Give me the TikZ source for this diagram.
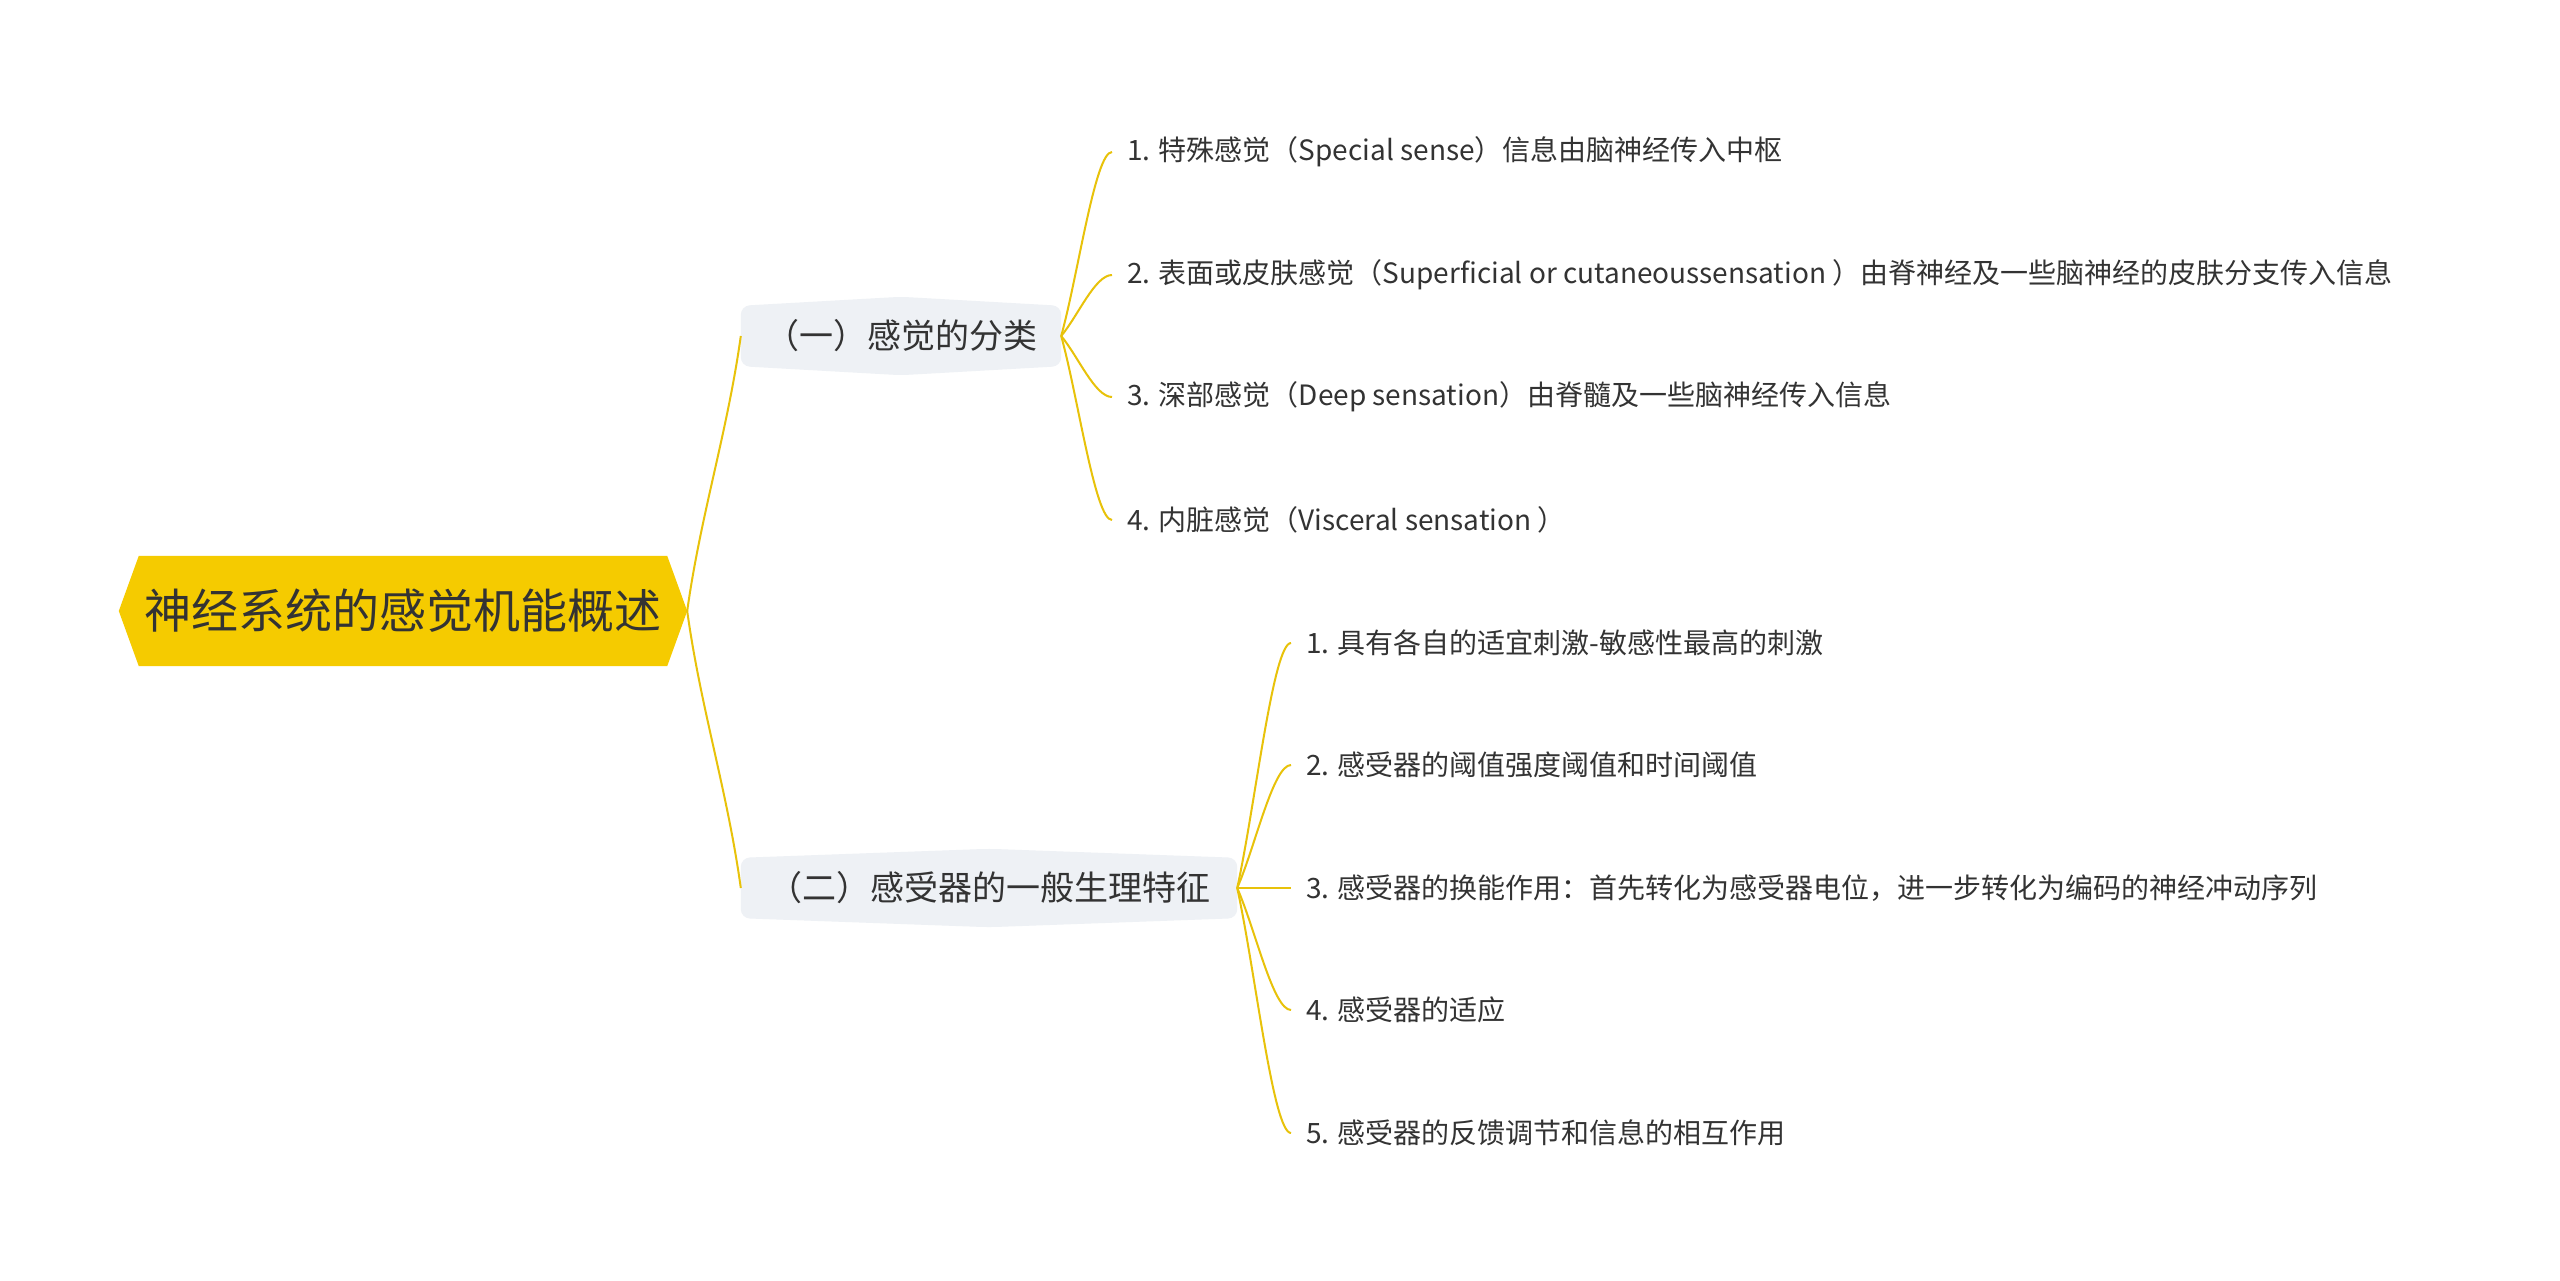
\documentclass[tikz,border=0pt]{standalone}
\usepackage{fontspec}
\setmainfont{Noto Sans CJK SC}
\usetikzlibrary{calc,backgrounds}
\definecolor{rootfill}{RGB}{245,203,0}
\definecolor{boxfill}{RGB}{238,241,245}
\definecolor{linecol}{RGB}{232,194,10}
\definecolor{txt}{RGB}{51,51,51}
\tikzset{
  rootnode/.style={shape=rectangle, inner sep=0pt, minimum width=568pt, minimum height=110pt,
    font=\fontsize{47}{56}\selectfont, text=txt},
  lvlone/.style={shape=rectangle, inner sep=0pt, minimum height=60pt,
    font=\fontsize{34}{40}\selectfont, text=txt},
  leaf/.style={shape=rectangle, anchor=west, inner xsep=15pt, inner ysep=2pt,
    font=\fontsize{28}{34}\selectfont, text=txt},
  conn/.style={draw=linecol, line width=2pt},
  fancurve/.style={to path={let \p1=(\tikztostart), \p2=(\tikztotarget) in
    .. controls ({\x1+(\x2-\x1)/3},{\y1+(\y2-\y1)/3}) and ({\x2-(\x2-\x1)/3},{\y2}) .. (\tikztotarget)}},
  rootcurve/.style={to path={let \p1=(\tikztostart), \p2=(\tikztotarget) in
    .. controls ({\x1+(\x2-\x1)/4},{\y1+0.35*(\y2-\y1)}) and ({\x2-(\x2-\x1)/4},{\y2-0.35*(\y2-\y1)}) .. (\tikztotarget)}},
}
\begin{document}
\begin{tikzpicture}[x=1pt,y=-1pt]
\useasboundingbox (0,0) rectangle (2560,1281);

% root
\node[rootnode] (root) at (403,611) {神经系统的感觉机能概述};

% level one
\node[lvlone, minimum width=320pt] (b1) at (901,336) {（一）感觉的分类};
\node[lvlone, minimum width=496pt] (b2) at (989,888) {（二）感受器的一般生理特征};

% leaves of b1
\node[leaf] (a1) at (1112,152) {1. 特殊感觉（Special sense）信息由脑神经传入中枢};
\node[leaf] (a2) at (1112,275) {2. 表面或皮肤感觉（Superficial or cutaneoussensation ）由脊神经及一些脑神经的皮肤分支传入信息};
\node[leaf] (a3) at (1112,397) {3. 深部感觉（Deep sensation）由脊髓及一些脑神经传入信息};
\node[leaf] (a4) at (1112,520) {4. 内脏感觉（Visceral sensation ）};

% leaves of b2
\node[leaf] (c1) at (1291,643) {1. 具有各自的适宜刺激-敏感性最高的刺激};
\node[leaf] (c2) at (1291,765) {2. 感受器的阈值强度阈值和时间阈值};
\node[leaf] (c3) at (1291,888) {3. 感受器的换能作用：首先转化为感受器电位，进一步转化为编码的神经冲动序列};
\node[leaf] (c4) at (1291,1010) {4. 感受器的适应};
\node[leaf] (c5) at (1291,1133) {5. 感受器的反馈调节和信息的相互作用};

\begin{scope}[on background layer]
  \fill[white] (0,0) rectangle (2560,1281);
  \fill[rootfill] (root.west) -- ([xshift=20pt]root.north west) -- ([xshift=-20pt]root.north east)
     -- (root.east) -- ([xshift=-20pt]root.south east) -- ([xshift=20pt]root.south west) -- cycle;
  \fill[boxfill, rounded corners=9pt] (b1.west) -- (b1.north west) -- ([yshift=9pt]b1.north)
     -- (b1.north east) -- (b1.south east) -- ([yshift=-9pt]b1.south) -- (b1.south west) -- cycle;
  \fill[boxfill, rounded corners=9pt] (b2.west) -- (b2.north west) -- ([yshift=9pt]b2.north)
     -- (b2.north east) -- (b2.south east) -- ([yshift=-9pt]b2.south) -- (b2.south west) -- cycle;
\end{scope}

% connectors
\draw[conn] (root.east) to[rootcurve] (b1.west);
\draw[conn] (root.east) to[rootcurve] (b2.west);
\foreach \k in {a1,a2,a3,a4} \draw[conn] (b1.east) to[fancurve] (\k.west);
\foreach \k in {c1,c2,c3,c4,c5} \draw[conn] (b2.east) to[fancurve] (\k.west);
\end{tikzpicture}
\end{document}
